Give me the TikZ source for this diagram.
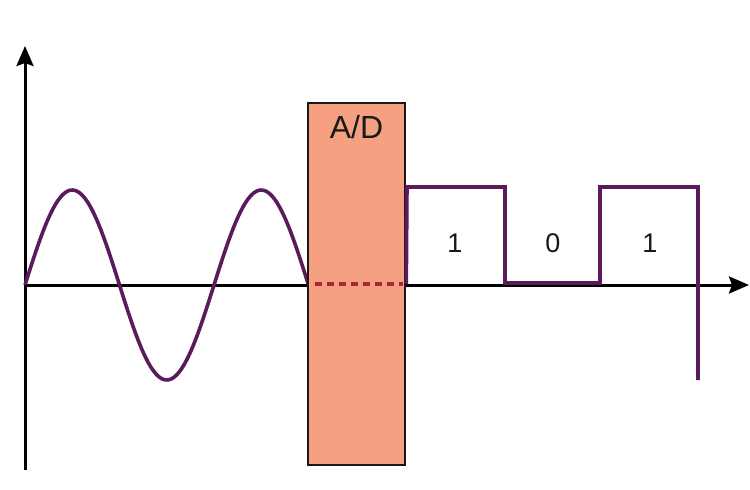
\documentclass[tikz,border=0pt]{standalone}
\usepackage{fontspec}
\setmainfont{Liberation Sans}
\usetikzlibrary{arrows.meta,positioning}
\definecolor{adfill}{HTML}{F5A080}
\definecolor{wave}{HTML}{5A1A5C}
\definecolor{dotred}{HTML}{A8283A}

\begin{document}
\begin{tikzpicture}[x=1pt,y=-1pt,
  axis/.style={line width=3pt,-{Stealth[length=20pt,width=17pt,inset=3pt]}},
  sig/.style={line width=3.6pt,wave,line join=miter},
  adbox/.style={draw=black!90,line width=2.6pt,fill=adfill,minimum width=97pt,minimum height=362pt,inner sep=0pt},
  bit/.style={font=\fontsize{27}{31}\selectfont,text=black!90}
]
\useasboundingbox[fill=white] (0,0) rectangle (750,490);
% axes
\coordinate (origin) at (25,285);
\coordinate (ybottom) at (25,470);
\coordinate (ytop) at (25,46);
\coordinate (xend) at (749,285);
\draw[axis] (ybottom) -- (ytop);
\draw[axis] (origin) -- (xend);
% analogue input
\draw[sig] plot[domain=25:308,samples=120,smooth] (\x,{285-95*sin((\x-25)/189*360)});
% converter
\node[adbox] (ad) at (356.5,284) {};
\node[bit,font=\fontsize{32}{36}\selectfont,below=10pt of ad.north] (adlabel) {A/D};
\draw[dotred,line width=4pt,dash pattern=on 7pt off 5pt] ([xshift=8pt]ad.west) -- ([xshift=-3pt]ad.east);
% digital output
\draw[sig] (ad.east) -- (407,187) -- (505,187) -- (505,283) -- (600,283) -- (600,187) -- (698,187) -- (698,380);
\node[bit] (bitA) at (455,243) {1};
\node[bit] (bitB) at (553,243) {0};
\node[bit] (bitC) at (650,243) {1};
\end{tikzpicture}
\end{document}
